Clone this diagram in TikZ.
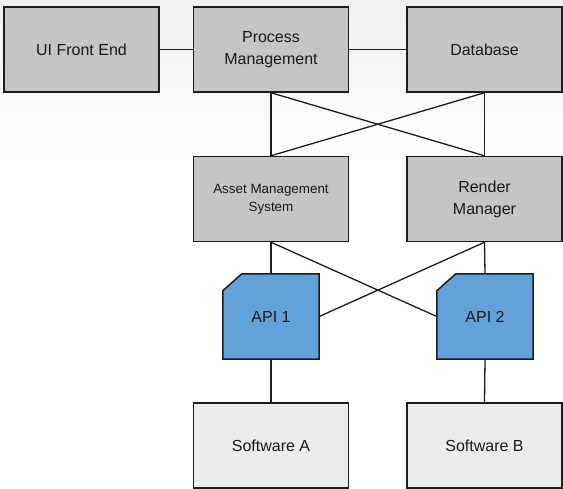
\documentclass[tikz,border=0pt]{standalone}
\usepackage{fontspec}
\setmainfont{Liberation Sans}
\usetikzlibrary{backgrounds}
\definecolor{boxgray}{HTML}{C4C5C4}
\definecolor{boxlight}{HTML}{EBECEB}
\definecolor{apiblue}{HTML}{62A2D9}
\definecolor{edgeink}{HTML}{1C1C1C}
\definecolor{bgtop}{HTML}{EEF0F1}
\tikzset{
  x=1pt, y=-1pt,
  block/.style={rectangle, draw=edgeink, line width=1.5pt, fill=boxgray,
    minimum width=155pt, minimum height=85pt, inner sep=2pt, align=center,
    font=\fontsize{16}{22}\selectfont, text=black!90},
  softbox/.style={block, fill=boxlight},
  apibox/.style={rectangle, minimum width=96pt, minimum height=85pt, inner sep=0pt,
    font=\fontsize{16}{22}\selectfont, text=black!90},
  apishape/.style={draw=edgeink, line width=1.5pt, fill=apiblue, line join=miter},
  link/.style={draw=edgeink, line width=1.3pt}
}
\begin{document}
\begin{tikzpicture}
  \useasboundingbox (0,0) rectangle (563,489);

  % top row
  \node[block] (ui) at (81.5,49.5) {UI Front End};
  \node[block] (pm) at (271,49.5) {Process\\Management};
  \node[block] (db) at (484.5,49.5) {Database};

  % middle row
  \node[block, font=\fontsize{13.4}{18}\selectfont] (ams) at (271,199) {Asset Management\\System};
  \node[block] (rm) at (484.5,199) {Render\\Manager};

  % API layer
  \node[apibox] (api1) at (271,316.5) {API 1};
  \node[apibox] (api2) at (485,316.5) {API 2};

  % bottom row
  \node[softbox] (swa) at (271,445.5) {Software A};
  \node[softbox] (swb) at (484.5,445.5) {Software B};

  \begin{scope}[on background layer]
    % soft backdrop fading out below the top row
    \shade[top color=bgtop, bottom color=white] (0,0) rectangle (563,165);

    % connectors
    \path[link] (ui.east) -- (pm.west);
    \path[link] (pm.east) -- (db.west);
    \path[link] (pm.south) -- (ams.north);
    \path[link] (db.south) -- (rm.north);
    \path[link] (pm.south) -- (rm.north);
    \path[link] (db.south) -- (ams.north);
    \path[link] (ams.south) -- (api1.north);
    \path[link] (rm.south) -- (api2.north);
    \path[link] (ams.south) -- (api2.west);
    \path[link] (rm.south) -- (api1.east);
    \path[link] (api1.south) -- (swa.north);
    \path[link] (api2.south) -- (swb.north);

    % API outlines with the clipped top-left corner
    \foreach \a in {api1,api2}{
      \path[apishape] ([yshift=-17pt]\a.north west) -- ([xshift=19pt]\a.north west)
        -- (\a.north east) -- (\a.south east) -- (\a.south west) -- cycle;
    }
  \end{scope}
\end{tikzpicture}
\end{document}
